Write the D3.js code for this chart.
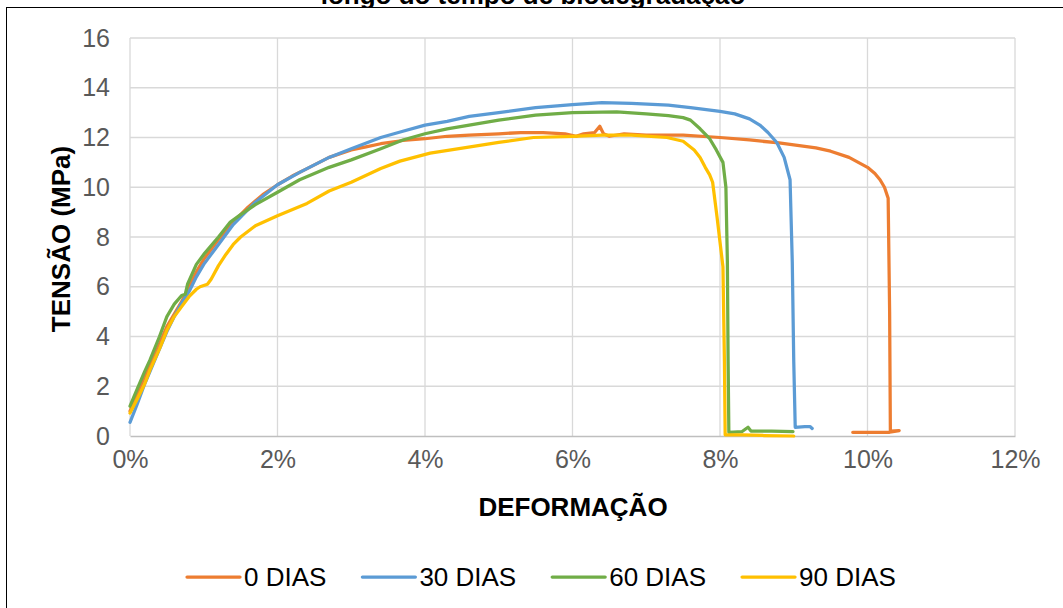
<!DOCTYPE html>
<html>
<head>
<meta charset="utf-8">
<script src="https://cdn.jsdelivr.net/npm/d3@7"></script>
<style>
  html, body { margin: 0; padding: 0; background: #fff; }
  svg { display: block; }
</style>
</head>
<body>
<svg id="chart" width="1063" height="608"></svg>
<script>
// ---------- DATA (strain in %, stress in MPa) ----------
const seriesNames = ["0 DIAS", "30 DIAS", "60 DIAS", "90 DIAS"];
const seriesColors = ["#ED7D31", "#5B9BD5", "#70AD47", "#FFC000"];

const strain0 = [0,0.1,0.2,0.3,0.4,0.5,0.6,0.7,0.8,0.9,1.0,1.1,1.2,1.4,1.6,1.8,2.0,2.2,2.4,2.7,3.0,3.2,3.4,3.7,4.0,4.3,4.6,5.0,5.3,5.6,5.9,6.05,6.15,6.3,6.37,6.42,6.5,6.7,7.0,7.5,8.0,8.4,8.8,9.0,9.3,9.5,9.75,10.0,10.1,10.17,10.23,10.28,10.3,10.31,10.43,10.3,9.8];
const stress0 = [1.0,1.7,2.4,3.0,3.7,4.4,4.9,5.4,6.0,6.6,7.1,7.5,7.9,8.6,9.2,9.7,10.1,10.45,10.75,11.2,11.5,11.62,11.75,11.88,11.95,12.05,12.1,12.15,12.2,12.2,12.15,12.05,12.15,12.2,12.45,12.15,12.05,12.15,12.1,12.1,12.0,11.9,11.78,11.7,11.58,11.45,11.2,10.8,10.55,10.3,10.0,9.56,5.0,0.2,0.22,0.15,0.15];

const strain30 = [0,0.1,0.2,0.3,0.4,0.5,0.6,0.7,0.8,0.9,1.0,1.15,1.4,1.7,2.0,2.3,2.7,3.0,3.4,3.7,4.0,4.3,4.6,5.0,5.5,6.0,6.4,6.8,7.3,7.6,8.0,8.2,8.4,8.54,8.65,8.77,8.87,8.95,8.98,9.0,9.02,9.15,9.22,9.25];
const stress30 = [0.55,1.3,2.1,2.8,3.5,4.2,4.8,5.35,5.8,6.4,6.9,7.5,8.5,9.4,10.1,10.6,11.2,11.55,12.0,12.25,12.5,12.65,12.85,13.0,13.2,13.32,13.4,13.37,13.3,13.2,13.05,12.95,12.75,12.5,12.2,11.8,11.2,10.3,7.0,3.0,0.35,0.38,0.38,0.3];

const strain60 = [0,0.1,0.2,0.27,0.4,0.5,0.6,0.7,0.75,0.78,0.9,1.0,1.2,1.36,1.5,1.7,2.0,2.3,2.7,3.0,3.4,3.7,4.0,4.3,4.6,5.0,5.5,6.0,6.6,7.0,7.3,7.5,7.6,7.73,7.86,7.95,8.04,8.08,8.1,8.11,8.12,8.3,8.38,8.42,8.7,8.99];
const stress60 = [1.2,1.9,2.6,3.05,4.0,4.8,5.3,5.65,5.7,6.1,6.9,7.3,8.0,8.6,8.9,9.3,9.8,10.3,10.8,11.1,11.55,11.9,12.15,12.35,12.5,12.7,12.9,13.0,13.03,12.95,12.88,12.8,12.7,12.35,11.95,11.5,11.0,10.0,7.0,3.0,0.15,0.18,0.35,0.2,0.2,0.18];

const strain90 = [0,0.1,0.2,0.27,0.4,0.5,0.6,0.7,0.8,0.9,0.95,1.05,1.1,1.2,1.3,1.4,1.5,1.7,2.0,2.4,2.7,3.0,3.4,3.66,4.07,4.57,5.0,5.47,6.0,6.4,6.8,7.28,7.5,7.65,7.73,7.8,7.86,7.9,7.96,8.0,8.04,8.06,8.07,8.3,8.6,9.0];
const stress90 = [0.92,1.5,2.1,2.65,3.5,4.25,4.8,5.2,5.6,5.9,6.0,6.1,6.3,6.85,7.3,7.7,8.0,8.45,8.85,9.35,9.85,10.2,10.75,11.05,11.37,11.6,11.8,12.0,12.05,12.1,12.1,12.0,11.85,11.5,11.2,10.8,10.5,10.2,8.8,7.8,6.8,3.0,0.05,0.05,0.02,0.0];

const xTicks = [0, 0.02, 0.04, 0.06, 0.08, 0.10, 0.12];
const yTicks = [0, 2, 4, 6, 8, 10, 12, 14, 16];

// ---------- LAYOUT ----------
const svg = d3.select("#chart");
const font = "'Liberation Sans', Arial, Helvetica, sans-serif";

// Title (partially cut off at the top)
svg.append("text")
  .attr("x", 533).attr("y", 4)
  .attr("text-anchor", "middle")
  .attr("font-family", font).attr("font-weight", "bold").attr("font-size", 26)
  .attr("fill", "#000")
  .text("longo do tempo de biodegradação");

// Chart area box
svg.append("rect")
  .attr("x", 6.5).attr("y", 7.5).attr("width", 1100).attr("height", 700)
  .attr("fill", "#fff").attr("stroke", "#000").attr("stroke-width", 1);

const x = d3.scaleLinear().domain([0, 0.12]).range([130, 1015]);
const y = d3.scaleLinear().domain([0, 16]).range([436, 38]);

// Gridlines
const g = svg.append("g");
g.selectAll("line.h").data(yTicks.filter(d => d > 0)).enter().append("line")
  .attr("x1", x(0)).attr("x2", x(0.12))
  .attr("y1", d => y(d)).attr("y2", d => y(d))
  .attr("stroke", "#d9d9d9").attr("stroke-width", 1.3);
g.selectAll("line.v").data(xTicks).enter().append("line")
  .attr("y1", y(0)).attr("y2", y(16))
  .attr("x1", d => x(d)).attr("x2", d => x(d))
  .attr("stroke", "#d9d9d9").attr("stroke-width", 1.3);

// X axis
const xAxis = svg.append("g")
  .attr("transform", `translate(0,${y(0)})`)
  .call(d3.axisBottom(x).tickValues(xTicks).tickFormat(d3.format(".0%")).tickSize(0).tickPadding(14));
xAxis.select(".domain").attr("stroke", "#bfbfbf").attr("stroke-width", 1.3);
xAxis.selectAll("text").attr("font-family", font).attr("font-size", 25).attr("fill", "#595959");

// Y axis
const yAxis = svg.append("g")
  .attr("transform", `translate(${x(0)},0)`)
  .call(d3.axisLeft(y).tickValues(yTicks).tickFormat(d3.format("d")).tickSize(0).tickPadding(20));
yAxis.select(".domain").remove();
yAxis.selectAll("text").attr("font-family", font).attr("font-size", 25).attr("fill", "#595959");

// Axis titles
svg.append("text")
  .attr("x", 573).attr("y", 516)
  .attr("text-anchor", "middle")
  .attr("font-family", font).attr("font-weight", "bold").attr("font-size", 26)
  .attr("fill", "#000")
  .text("DEFORMAÇÃO");

svg.append("text")
  .attr("transform", "translate(70,239) rotate(-90)")
  .attr("text-anchor", "middle")
  .attr("font-family", font).attr("font-weight", "bold").attr("font-size", 26)
  .attr("fill", "#000")
  .text("TENSÃO (MPa)");

// Series
const series = [
  { strain: strain0, stress: stress0 },
  { strain: strain30, stress: stress30 },
  { strain: strain60, stress: stress60 },
  { strain: strain90, stress: stress90 }
];
const line = d3.line().x(d => x(d[0] / 100)).y(d => y(d[1]));

series.forEach((s, i) => {
  const pts = s.strain.map((v, k) => [v, s.stress[k]]);
  svg.append("path")
    .datum(pts)
    .attr("d", line)
    .attr("fill", "none")
    .attr("stroke", seriesColors[i])
    .attr("stroke-width", 3.25)
    .attr("stroke-linejoin", "round")
    .attr("stroke-linecap", "round");
});

// Legend (laid out sequentially from measured text widths)
const lg = svg.append("g");
let lx = 187;
seriesNames.forEach((name, i) => {
  lg.append("line")
    .attr("x1", lx).attr("x2", lx + 53)
    .attr("y1", 577).attr("y2", 577)
    .attr("stroke", seriesColors[i]).attr("stroke-width", 3.25)
    .attr("stroke-linecap", "round");
  const t = lg.append("text")
    .attr("x", lx + 57).attr("y", 586)
    .attr("font-family", font)
    .attr("font-size", 26)
    .attr("fill", "#000")
    .text(name);
  lx += 57 + t.node().getComputedTextLength() + 36;
});
</script>
</body>
</html>
